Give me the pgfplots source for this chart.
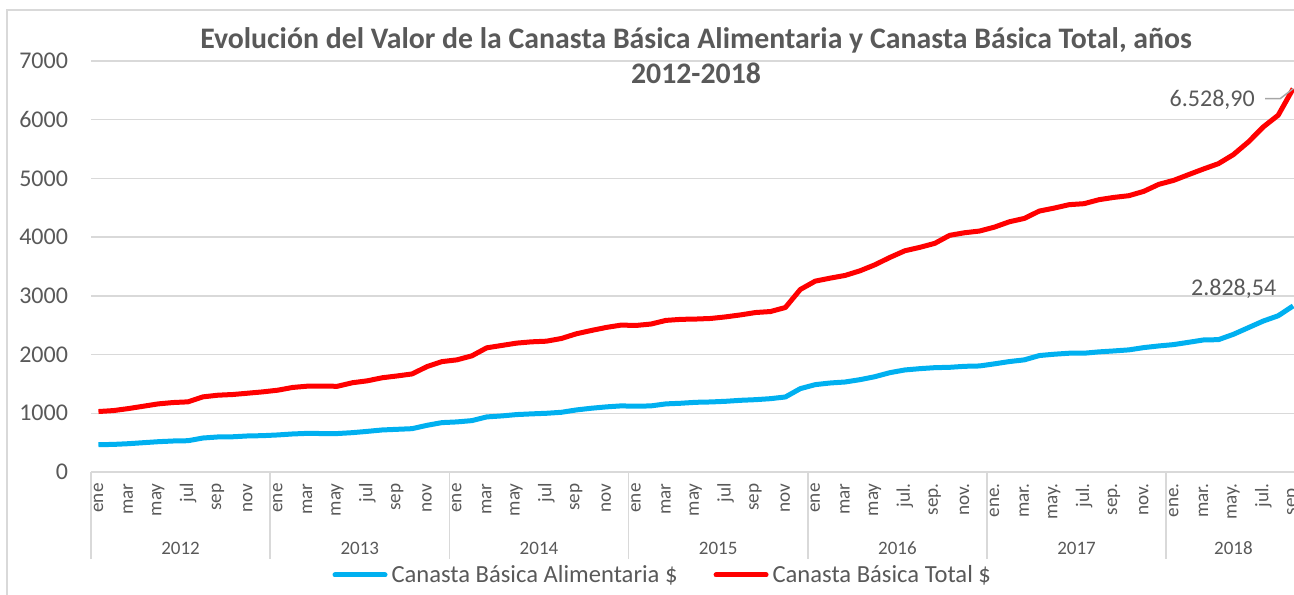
\documentclass[border=0pt]{standalone}
\usepackage{fontspec}
\setmainfont{Carlito}
\usepackage{pgfplots}
\pgfplotsset{compat=1.18}
\usepackage{pgfplotstable}
\definecolor{txt}{HTML}{595959}
\definecolor{gridc}{HTML}{D9D9D9}
\definecolor{cba}{HTML}{00B0F0}
\definecolor{cbt}{HTML}{FF0000}
\definecolor{lead}{HTML}{A6A6A6}

\pgfplotstableread{
i cba cbt
0 465 1030
1 470 1046
2 482 1080
3 499 1120
4 516 1160
5 528 1183
6 533 1195
7 579 1280
8 597 1308
9 600 1320
10 614 1342
11 619 1365
12 631 1393
13 648 1440
14 658 1462
15 655 1462
16 655 1460
17 670 1520
18 692 1553
19 716 1605
20 727 1636
21 738 1670
22 795 1795
23 841 1880
24 853 1910
25 875 1978
26 938 2115
27 955 2155
28 978 2195
29 990 2217
30 1000 2228
31 1017 2274
32 1057 2354
33 1086 2410
34 1109 2462
35 1126 2502
36 1120 2496
37 1126 2520
38 1160 2582
39 1171 2600
40 1187 2605
41 1193 2615
42 1204 2642
43 1221 2676
44 1232 2716
45 1249 2733
46 1278 2802
47 1420 3109
48 1488 3251
49 1516 3302
50 1533 3348
51 1573 3427
52 1624 3530
53 1692 3655
54 1738 3768
55 1760 3826
56 1777 3894
57 1783 4031
58 1800 4075
59 1806 4104
60 1842 4171
61 1881 4262
62 1910 4319
63 1983 4444
64 2006 4495
65 2023 4553
66 2023 4570
67 2046 4638
68 2062 4677
69 2080 4706
70 2119 4780
71 2147 4899
72 2170 4967
73 2209 5065
74 2249 5161
75 2254 5252
76 2345 5406
77 2458 5621
78 2571 5877
79 2661 6077
80 2828.54 6528.90
}\datatab

\tikzset{yearlab/.style={anchor=base, font=\fontsize{9.5}{11}\selectfont, text=txt, yshift=-41pt},
  sepline/.style={gridc, line width=0.75pt}}

\begin{document}
\begin{tikzpicture}
\begin{scope}
\clip (0,0) rectangle (647pt,297pt);
\draw[gridc, line width=0.75pt] (3.5pt,-5pt) -- (3.5pt,292pt) -- (700pt,292pt);
\node[anchor=base, font=\bfseries\fontsize{14.9}{17}\selectfont, text=txt] at (348pt,272.5pt) {Evolución del Valor de la Canasta Básica Alimentaria y Canasta Básica Total, años};
\node[anchor=base, font=\bfseries\fontsize{14.9}{17}\selectfont, text=txt] at (348pt,255pt) {2012-2018};
\begin{axis}[
  at={(45.5pt,61pt)}, anchor=south west,
  scale only axis, width=604.8pt, height=205.5pt,
  xmin=-0.5, xmax=80.5, ymin=0, ymax=7000,
  clip=false,
  axis line style={draw=none},
  ytick={0,1000,...,7000},
  ymajorgrids, grid style={gridc, line width=0.75pt},
  major tick length=0pt,
  xtick={0,2,...,80},
  xticklabels={ene,mar,may,jul,sep,nov,ene,mar,may,jul,sep,nov,ene,mar,may,jul,sep,nov,ene,mar,may,jul,sep,nov,ene,mar,may,jul.,sep.,nov.,ene.,mar.,may.,jul.,sep.,nov.,ene.,mar.,may.,jul.,sep.},
  xticklabel style={rotate=90, anchor=east, font=\fontsize{9.6}{11}\selectfont, text=txt, inner sep=0pt},
  xticklabel shift=5.5pt,
  yticklabel style={font=\fontsize{12}{14}\selectfont, text=txt},
  yticklabel shift=8pt,
  /pgf/number format/assume math mode=true,
  /pgf/number format/1000 sep={},
  scaled y ticks=false,
  legend style={at={(0.4735,-0.2506)}, anchor=center, draw=none, fill=none,
    font=\fontsize{12.3}{14}\selectfont, text=txt,
    /tikz/every even column/.append style={column sep=16pt}},
  legend columns=2,
  legend cell align=left,
  legend image code/.code={\draw[#1, line width=2.5pt, line cap=round] (0pt,0pt) -- (25pt,0pt);},
]
\addplot[cba, line width=2.5pt, line join=round] table[x=i, y=cba] {\datatab};
\addlegendentry{Canasta Básica Alimentaria \$}
\addplot[cbt, line width=2.5pt, line join=round] table[x=i, y=cbt] {\datatab};
\addlegendentry{Canasta Básica Total \$}

\draw[sepline] (axis cs:-0.5,0) -- ++(0pt,-43.5pt);
\draw[sepline] (axis cs:11.5,0) -- ++(0pt,-43.5pt);
\draw[sepline] (axis cs:23.5,0) -- ++(0pt,-43.5pt);
\draw[sepline] (axis cs:35.5,0) -- ++(0pt,-43.5pt);
\draw[sepline] (axis cs:47.5,0) -- ++(0pt,-43.5pt);
\draw[sepline] (axis cs:59.5,0) -- ++(0pt,-43.5pt);
\draw[sepline] (axis cs:71.5,0) -- ++(0pt,-43.5pt);
\node[yearlab] at (axis cs:5.5,0) {2012};
\node[yearlab] at (axis cs:17.5,0) {2013};
\node[yearlab] at (axis cs:29.5,0) {2014};
\node[yearlab] at (axis cs:41.5,0) {2015};
\node[yearlab] at (axis cs:53.5,0) {2016};
\node[yearlab] at (axis cs:65.5,0) {2017};
\node[yearlab] at (axis cs:76,0) {2018};
\node[anchor=east, inner sep=0pt, font=\fontsize{12}{14}\selectfont, text=txt, xshift=-19pt, yshift=-5.5pt] at (axis cs:80,6528.9) {6.528,90};
\draw[lead, line width=0.75pt] (axis cs:80,6528.9) ++(-14pt,-5pt) -- ++(7.5pt,0pt) -- (axis cs:80,6528.9);
\node[anchor=center, inner sep=0pt, font=\fontsize{12}{14}\selectfont, text=txt, xshift=-29.75pt, yshift=8.5pt] at (axis cs:80,2828.54) {2.828,54};
\end{axis}
\end{scope}
\pgfresetboundingbox
\useasboundingbox (0,0) rectangle (647pt,297pt);
\end{tikzpicture}
\end{document}
